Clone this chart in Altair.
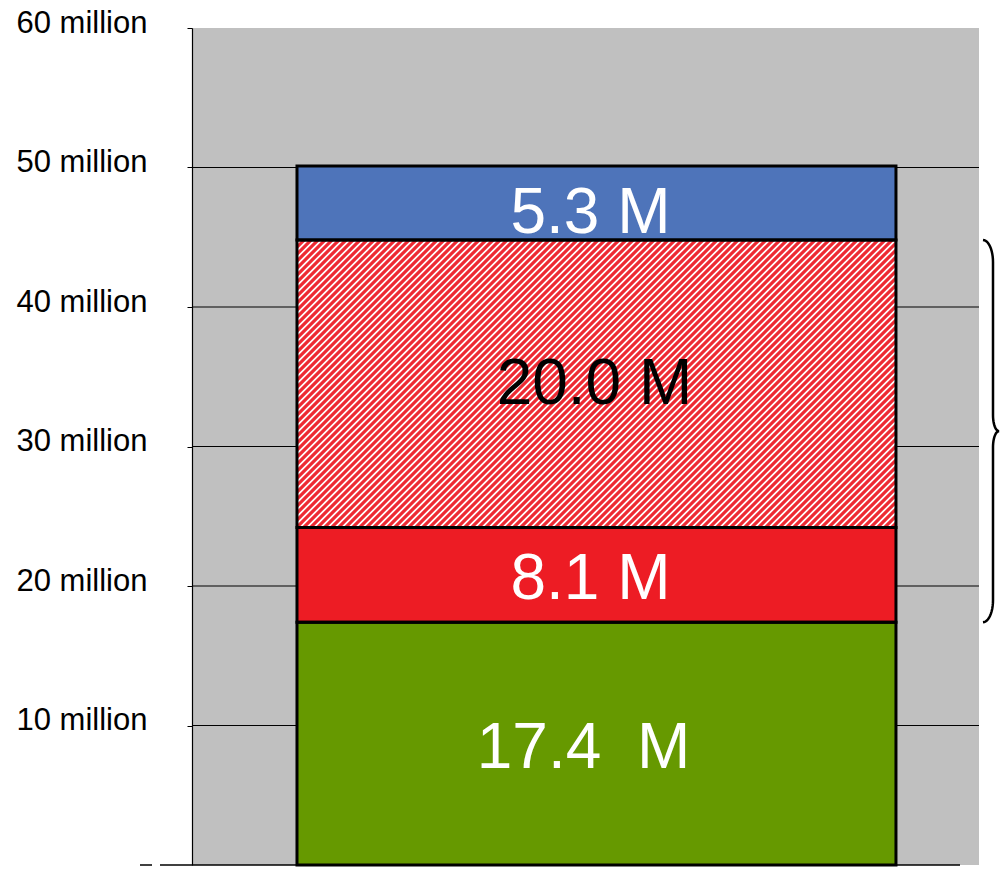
import math
import altair as alt
import pandas as pd

# ---------------- data (values in millions) ----------------
segments = ["Green", "Red", "Hatched", "Blue"]
segment_values = [17.4, 6.8, 20.6, 5.3]          # bar segment heights (millions)
segment_labels = ["17.4\u00a0 M", "8.1 M", "20.0 M", "5.3 M"]
tick_values = [10, 20, 30, 40, 50, 60]
grid_values = [10, 20, 30, 40, 50]

# ---------------- style / layout ----------------
PLOT_W, PLOT_H = 787, 837
Y_MAX = 60
BAR_X0, BAR_X1 = 0.1334, 0.8945
fills = ["#669900", "#ed1c24", "#ffffff", "#4e74ba"]
label_colors = ["white", "white", "black", "white"]
label_dx = [-13, -6, -2, -6]
label_dy = [5, 5, 1, 11]
HATCH_COLOR = "#ee2a33"
FONT = "Liberation Sans"

# ---------------- build tables ----------------
starts, ends, acc = [], [], 0.0
for v in segment_values:
    starts.append(acc)
    acc += v
    ends.append(acc)

seg_df = pd.DataFrame({
    "segment": segments,
    "start": starts,
    "end": ends,
    "label": segment_labels,
    "fill": fills,
    "tcolor": label_colors,
})
seg_df["mid"] = (seg_df["start"] + seg_df["end"]) / 2
seg_df["x0"] = BAR_X0
seg_df["x1"] = BAR_X1
seg_df["xc"] = (BAR_X0 + BAR_X1) / 2

grid_df = pd.DataFrame({"v": grid_values, "x0": 0.0, "x1": 1.0})

# hatch lines (decoration) inside the hatched segment, 45 degrees in pixel space
hb, ht = starts[2], ends[2]
Wp = (BAR_X1 - BAR_X0) * PLOT_W
Hp = (ht - hb) * PLOT_H / Y_MAX
period = 7.0
rows = []
c = -Hp
while c < Wp:
    xa, xb = max(0.0, c), min(Wp, Hp + c)
    if xb > xa:
        rows.append({
            "x": BAR_X0 + xa / PLOT_W, "x2": BAR_X0 + xb / PLOT_W,
            "y": hb + (xa - c) * Y_MAX / PLOT_H, "y2": hb + (xb - c) * Y_MAX / PLOT_H,
        })
    c += period
hatch_df = pd.DataFrame(rows)

# brace spanning red + hatched segments (decoration)
b_lo, b_hi = ends[0], ends[2]
Yt, Yb = b_hi * PLOT_H / Y_MAX, b_lo * PLOT_H / Y_MAX
Ym = (Yt + Yb) / 2
x0p, x1p, x2p = 791.0, 801.0, 807.0
ry, ry2 = 22.0, 16.0
pts = []
n = 12
for k in range(n + 1):            # top hook
    th = math.pi / 2 - (math.pi / 2) * k / n
    pts.append((x0p + (x1p - x0p) * math.cos(th), Yt - ry + ry * math.sin(th)))
for k in range(n + 1):            # upper tip half
    th = math.pi + (math.pi / 2) * k / n
    pts.append((x2p + (x2p - x1p) * math.cos(th), Ym + ry2 + ry2 * math.sin(th)))
for k in range(n + 1):            # lower tip half
    th = math.pi / 2 + (math.pi / 2) * k / n
    pts.append((x2p + (x2p - x1p) * math.cos(th), Ym - ry2 + ry2 * math.sin(th)))
for k in range(n + 1):            # bottom hook
    th = -(math.pi / 2) * k / n
    pts.append((x0p + (x1p - x0p) * math.cos(th), Yb + ry + ry * math.sin(th)))
brace_df = pd.DataFrame({
    "i": list(range(len(pts))),
    "x": [p[0] / PLOT_W for p in pts],
    "y": [p[1] * Y_MAX / PLOT_H for p in pts],
})

base_df = pd.DataFrame({"x0": [(160 - 192) / PLOT_W, (140 - 192) / PLOT_W],
                        "x1": [(960 - 192) / PLOT_W, (152 - 192) / PLOT_W],
                        "v": [0.0, 0.0]})

xs = alt.Scale(domain=[0, 1], nice=False, zero=False)
ys = alt.Scale(domain=[0, Y_MAX], nice=False, zero=False)

y_axis = alt.Axis(
    values=tick_values, labelExpr="datum.value + ' million'",
    labelAlign="left", labelBaseline="middle", labelPadding=171,
    labelOffset=-5, labelFontSize=31, labelFont=FONT, labelColor="black",
    domainColor="black", domainWidth=1.2, tickColor="black", tickSize=5,
    grid=False, title=None, labelOverlap=False)

# ---------------- layers ----------------
grid_layer = alt.Chart(grid_df).mark_rule(color="black", strokeWidth=1.2).encode(
    x=alt.X("x0:Q", scale=xs, axis=None), x2="x1:Q",
    y=alt.Y("v:Q", scale=ys, axis=y_axis),
)

base_layer = alt.Chart(base_df).mark_rule(color="black", strokeWidth=1.5).encode(
    x=alt.X("x0:Q", scale=xs, axis=None), x2="x1:Q",
    y=alt.Y("v:Q", scale=ys, axis=y_axis),
)

fill_layer = alt.Chart(seg_df).mark_rect().encode(
    x=alt.X("x0:Q", scale=xs, axis=None), x2="x1:Q",
    y=alt.Y("start:Q", scale=ys, axis=y_axis), y2="end:Q",
    fill=alt.Fill("fill:N", scale=None),
)

hatch_layer = alt.Chart(hatch_df).mark_rule(color=HATCH_COLOR, strokeWidth=3.2, strokeCap="butt").encode(
    x=alt.X("x:Q", scale=xs, axis=None), x2="x2:Q",
    y=alt.Y("y:Q", scale=ys, axis=y_axis), y2="y2:Q",
)

outline_layer = alt.Chart(seg_df).mark_rect(fillOpacity=0, stroke="black", strokeWidth=3).encode(
    x=alt.X("x0:Q", scale=xs, axis=None), x2="x1:Q",
    y=alt.Y("start:Q", scale=ys, axis=y_axis), y2="end:Q",
)

text_layers = []
for i in range(len(segments)):
    text_layers.append(
        alt.Chart(seg_df.iloc[[i]]).mark_text(
            font=FONT, fontSize=64, baseline="middle", align="center",
            dx=label_dx[i], dy=label_dy[i],
        ).encode(
            x=alt.X("xc:Q", scale=xs, axis=None),
            y=alt.Y("mid:Q", scale=ys, axis=y_axis),
            text="label:N",
            color=alt.Color("tcolor:N", scale=None),
        )
    )

brace_layer = alt.Chart(brace_df).mark_line(color="black", strokeWidth=2.5).encode(
    x=alt.X("x:Q", scale=xs, axis=None),
    y=alt.Y("y:Q", scale=ys, axis=y_axis),
    order="i:Q",
)

chart = alt.layer(
    grid_layer, fill_layer, hatch_layer, outline_layer, *text_layers,
    brace_layer, base_layer,
).properties(
    width=PLOT_W, height=PLOT_H,
    padding={"left": 192, "top": 28, "right": 21, "bottom": 8},
    autosize="none",
    background="white",
).configure_view(fill="#c0c0c0", strokeWidth=0)

chart.save("out.html", embed_options={"renderer": "svg", "actions": False})
